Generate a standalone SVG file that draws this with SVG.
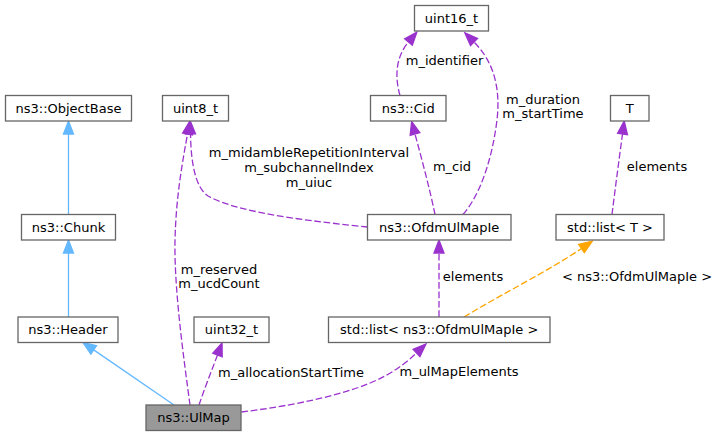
<svg xmlns="http://www.w3.org/2000/svg" width="718" height="436" viewBox="0 0 718 436">
<style>
.box{fill:#ffffff;stroke:#666666;stroke-width:1.3}
.main{fill:#999999;stroke:#666666;stroke-width:1.3}
text{font-family:"DejaVu Sans","Liberation Sans",sans-serif;font-size:13px;fill:#000000}
.nt{text-anchor:middle}
.lb{text-anchor:middle}
.inh{fill:none;stroke:#63b8ff;stroke-width:1.3}
.use{fill:none;stroke:#9a32cd;stroke-width:1.3;stroke-dasharray:6.7,2.7}
.tpl{fill:none;stroke:#ffa500;stroke-width:1.3;stroke-dasharray:6.7,2.7}
</style>
<defs>
<marker id="aBlue" markerUnits="userSpaceOnUse" markerWidth="16" markerHeight="14" refX="0" refY="7" orient="auto" overflow="visible">
<path d="M0,2 L13,7 L0,12 Z" fill="#63b8ff" stroke="#63b8ff" stroke-width="1.3"/>
</marker>
<marker id="aPurple" markerUnits="userSpaceOnUse" markerWidth="16" markerHeight="14" refX="0" refY="7" orient="auto" overflow="visible">
<path d="M0,2 L13,7 L0,12 Z" fill="#9a32cd" stroke="#9a32cd" stroke-width="1.3"/>
</marker>
<marker id="aOrange" markerUnits="userSpaceOnUse" markerWidth="16" markerHeight="14" refX="0" refY="7" orient="auto" overflow="visible">
<path d="M0,2 L13,7 L0,12 Z" fill="#ffa500" stroke="#ffa500" stroke-width="1.3"/>
</marker>
</defs>
<rect width="718" height="436" fill="#ffffff"/>
<g id="connectors">
<path class="inh" d="M68.5,214.5 L68.5,134" marker-end="url(#aBlue)"/>
<path class="inh" d="M68.5,317 L68.5,253" marker-end="url(#aBlue)"/>
<path class="inh" d="M174,405 L93.7,349.9" marker-end="url(#aBlue)"/>
<path class="use" d="M190,405 C184,360 174,290 175,240 C176,200 181,170 187.5,134" marker-end="url(#aPurple)"/>
<path class="use" d="M367.5,227 C320,222 240,214 208,196 C196,188 191,165 190.5,134" marker-end="url(#aPurple)"/>
<path class="use" d="M435,214.5 C430,190 422,160 415,134" marker-end="url(#aPurple)"/>
<path class="use" d="M400,95.5 C395,78 395,58 408.5,42" marker-end="url(#aPurple)"/>
<path class="use" d="M463,214.5 C480,195 492,160 497,120 C501,85 492,60 474,42" marker-end="url(#aPurple)"/>
<path class="use" d="M612,214.5 C615,190 619,160 622.5,134" marker-end="url(#aPurple)"/>
<path class="use" d="M439,317 L439,253" marker-end="url(#aPurple)"/>
<path class="tpl" d="M464,317 C500,295 550,270 581.5,248.5" marker-end="url(#aOrange)"/>
<path class="use" d="M199,405 C204,390 210,375 217.5,355" marker-end="url(#aPurple)"/>
<path class="use" d="M241.5,412 C290,406 350,395 385,376 C398,369 408,361 416.5,353" marker-end="url(#aPurple)"/>
<text class="lb" x="219" y="273.5">m_reserved</text>
<text class="lb" x="219" y="288">m_ucdCount</text>
<text class="lb" x="309" y="156.5">m_midambleRepetitionInterval</text>
<text class="lb" x="309" y="171.5">m_subchannelIndex</text>
<text class="lb" x="309" y="186.5">m_uiuc</text>
<text class="lb" x="452" y="171">m_cid</text>
<text class="lb" x="444.5" y="65">m_identifier</text>
<text class="lb" x="543" y="104">m_duration</text>
<text class="lb" x="543" y="118">m_startTime</text>
<text class="lb" x="657" y="171">elements</text>
<text class="lb" x="473" y="281">elements</text>
<text class="lb" x="637" y="281">&lt; ns3::OfdmUlMapIe &gt;</text>
<text class="lb" x="291" y="377">m_allocationStartTime</text>
<text class="lb" x="459" y="376">m_ulMapElements</text>
</g>
<g id="node-uint16_t"><rect class="box" x="414.5" y="5.5" width="74" height="25.5"/><text class="nt" x="451.5" y="22.5">uint16_t</text></g>
<g id="node-ObjectBase"><rect class="box" x="5.5" y="95.5" width="126" height="25.5"/><text class="nt" x="68.5" y="112.5">ns3::ObjectBase</text></g>
<g id="node-uint8_t"><rect class="box" x="162.5" y="95.5" width="66" height="25.5"/><text class="nt" x="195.5" y="112.5">uint8_t</text></g>
<g id="node-Cid"><rect class="box" x="370.5" y="95.5" width="75.5" height="25.5"/><text class="nt" x="408.2" y="112.5">ns3::Cid</text></g>
<g id="node-T"><rect class="box" x="610.5" y="95.5" width="38.5" height="25.5"/><text class="nt" x="629.7" y="112.5">T</text></g>
<g id="node-Chunk"><rect class="box" x="21.5" y="214.5" width="94" height="25.5"/><text class="nt" x="68.5" y="231.5">ns3::Chunk</text></g>
<g id="node-OfdmUlMapIe"><rect class="box" x="367.5" y="214.5" width="143.5" height="25.5"/><text class="nt" x="439.2" y="231.5">ns3::OfdmUlMapIe</text></g>
<g id="node-listT"><rect class="box" x="556" y="214.5" width="108" height="25.5"/><text class="nt" x="610" y="231.5">std::list&lt; T &gt;</text></g>
<g id="node-Header"><rect class="box" x="18" y="317" width="100" height="25.5"/><text class="nt" x="68" y="334">ns3::Header</text></g>
<g id="node-uint32_t"><rect class="box" x="194" y="317" width="75" height="25.5"/><text class="nt" x="231.5" y="334">uint32_t</text></g>
<g id="node-listOfdm"><rect class="box" x="328.5" y="317" width="221.5" height="25.5"/><text class="nt" x="439.2" y="334">std::list&lt; ns3::OfdmUlMapIe &gt;</text></g>
<g id="node-UlMap"><rect class="main" x="146" y="405" width="95" height="25.5"/><text class="nt" x="193.5" y="422">ns3::UlMap</text></g>
</svg>
